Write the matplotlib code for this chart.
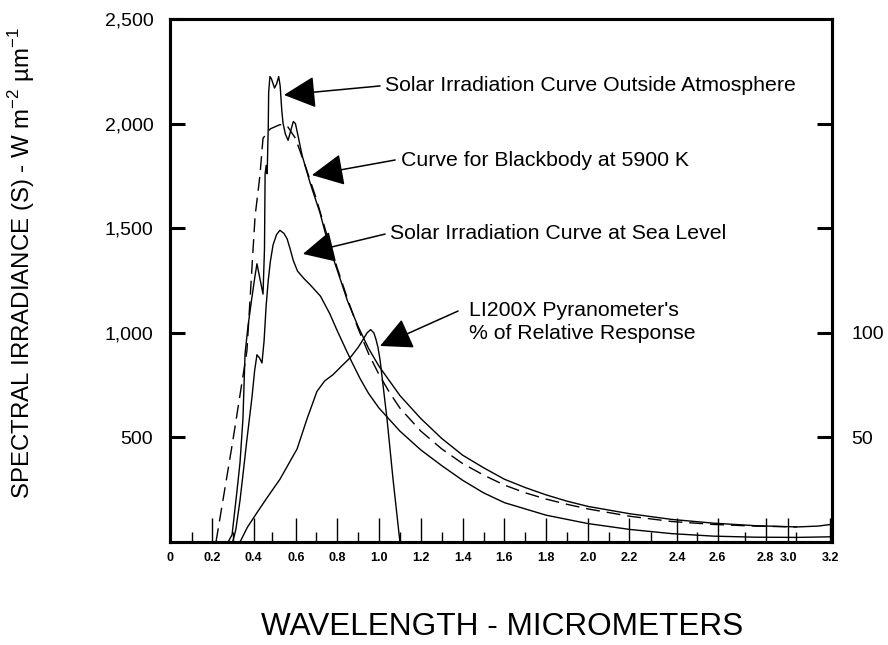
import matplotlib
matplotlib.use("Agg")
import matplotlib.pyplot as plt

plt.rcParams['font.family'] = ['Liberation Sans', 'DejaVu Sans']

# Solar irradiation outside atmosphere (wavelength um, W m-2 um-1)
wl_outside = [0.278, 0.297, 0.32, 0.335, 0.349, 0.359, 0.373, 0.392, 0.405, 0.416,
              0.43, 0.445, 0.452, 0.455, 0.46, 0.465, 0.468, 0.47, 0.472, 0.478,
              0.485, 0.50, 0.51, 0.52, 0.527, 0.535, 0.541, 0.552, 0.565, 0.58,
              0.59, 0.60, 0.615, 0.632, 0.67, 0.718, 0.756, 0.80, 0.85, 0.90,
              0.95, 1.0, 1.05, 1.1, 1.2, 1.3, 1.4, 1.5, 1.6, 1.7,
              1.8, 1.9, 2.0, 2.2, 2.4, 2.6, 2.8, 3.0, 3.1, 3.17]
irr_outside = [0, 35, 240, 380, 590, 900, 1030, 1170, 1260, 1330,
               1260, 1185, 1400, 1760, 1800, 1760, 1900, 1980, 2150, 2225,
               2215, 2170, 2190, 2225, 2180, 2060, 2000, 1950, 1920, 1975,
               2010, 2000, 1930, 1848, 1717, 1572, 1427, 1300, 1150, 1030,
               925, 840, 770, 700, 590, 495, 415, 355, 300, 260,
               225, 195, 170, 135, 108, 90, 78, 72, 76, 85]

# Blackbody at 5900 K
wl_blackbody = [0.22, 0.30, 0.368, 0.407, 0.43, 0.445, 0.48, 0.526, 0.56, 0.60,
                0.65, 0.70, 0.75, 0.80, 0.85, 0.90, 0.95, 1.0, 1.05, 1.1,
                1.2, 1.3, 1.4, 1.5, 1.6, 1.7, 1.8, 1.9, 2.0, 2.2,
                2.4, 2.6, 2.8, 3.0]
irr_blackbody = [0, 480, 914, 1557, 1750, 1930, 1975, 1995, 1990, 1930,
                 1790, 1640, 1470, 1310, 1160, 1020, 900, 800, 715, 640,
                 530, 445, 375, 320, 272, 235, 205, 180, 158, 123,
                 98, 84, 76, 72]

# Solar irradiation at sea level
wl_sea = [0.30, 0.315, 0.335, 0.35, 0.368, 0.392, 0.405, 0.416, 0.428, 0.44,
          0.45, 0.46, 0.47, 0.48, 0.493, 0.51, 0.526, 0.545, 0.56, 0.575,
          0.59, 0.61, 0.64, 0.67, 0.72, 0.765, 0.80, 0.837, 0.87, 0.91,
          0.95, 1.0, 1.1, 1.2, 1.3, 1.4, 1.5, 1.6, 1.8, 2.0,
          2.2, 2.4, 2.6, 2.8, 3.0, 3.17]
irr_sea = [0, 60, 200, 330, 490, 690, 820, 895, 880, 856,
           960, 1130, 1250, 1340, 1420, 1470, 1490, 1475, 1450, 1400,
           1345, 1295, 1260, 1230, 1175, 1090, 1010, 930, 860, 780,
           710, 640, 530, 440, 365, 295, 235, 188, 128, 88,
           60, 40, 28, 23, 22, 25]

# LI200X pyranometer relative response (%)
wl_pyr = [0.335, 0.37, 0.416, 0.47, 0.526, 0.608, 0.656, 0.703, 0.74, 0.78,
          0.82, 0.861, 0.90, 0.919, 0.943, 0.96, 0.975, 0.985, 0.995, 1.005,
          1.038, 1.067, 1.10]
resp_pyr = [0, 7, 14, 22, 30, 44.5, 59, 72, 77, 80,
            84, 88, 93, 96, 100, 101.5, 100, 97, 93, 87,
            59, 30, 0]

# tick positions as drawn on the original (labels are not evenly spaced)
xtick_pos = [0, 0.20, 0.40, 0.603, 0.80, 1.0, 1.20, 1.40, 1.60, 1.80,
             2.00, 2.196, 2.426, 2.62, 2.85, 2.957, 3.158]
xtick_labels = ['0', '0.2', '0.4', '0.6', '0.8', '1.0', '1.2', '1.4', '1.6', '1.8',
                '2.0', '2.2', '2.4', '2.6', '2.8', '3.0', '3.2']
xminor_pos = [0.105, 0.30, 0.49, 0.70, 0.90, 1.10, 1.30, 1.50, 1.70, 1.90,
              2.10, 2.30, 2.52, 2.75, 2.995]
ytick_pos = [500, 1000, 1500, 2000, 2500]
ytick_labels = ['500', '1,000', '1,500', '2,000', '2,500']

fig = plt.figure(figsize=(8.88, 6.45), dpi=100)
ax = fig.add_axes([170 / 888, 1 - 542 / 645, 662 / 888, 523 / 645])

ax.plot(wl_outside, irr_outside, color='black', lw=1.0)
ax.plot(wl_blackbody, irr_blackbody, color='black', lw=1.0, dashes=(10, 5))
ax.plot(wl_sea, irr_sea, color='black', lw=1.0)

ax.set_xlim(0, 3.167)
ax.set_ylim(0, 2500)
ax.set_xticks(xtick_pos, xtick_labels)
ax.set_xticks(xminor_pos, minor=True)
ax.set_yticks(ytick_pos, ytick_labels)
ax.tick_params(axis='x', which='major', direction='in', length=17, width=1,
               pad=7, labelsize=9)
ax.tick_params(axis='x', which='minor', direction='in', length=7, width=1)
ax.tick_params(axis='y', direction='in', length=11, width=2.2, pad=12,
               labelsize=14)
for lbl in ax.get_xticklabels():
    lbl.set_fontweight('bold')
for s in ax.spines.values():
    s.set_linewidth(2.2)

ax2 = ax.twinx()
ax2.plot(wl_pyr, resp_pyr, color='black', lw=1.0)
ax2.set_ylim(0, 250)
ax2.set_yticks([50, 100, 150, 200], ['50', '100', '', ''])
ax2.tick_params(axis='y', direction='in', length=11, width=2.2, pad=14,
                labelsize=14)
for s in ax2.spines.values():
    s.set_linewidth(2.2)

# annotations
fs = 15.3
arrow = dict(arrowstyle='-|>,head_length=1.0,head_width=0.5', color='black',
             lw=1.1, mutation_scale=20, shrinkA=0, shrinkB=0)
ax.text(1.029, 2184, 'Solar Irradiation Curve Outside Atmosphere',
        fontsize=fs, va='center', ha='left')
ax.annotate('', xy=(0.545, 2137), xytext=(1.005, 2180), arrowprops=arrow)
ax.text(1.105, 1826, 'Curve for Blackbody at 5900 K',
        fontsize=fs, va='center', ha='left')
ax.annotate('', xy=(0.679, 1754), xytext=(1.077, 1826), arrowprops=arrow)
ax.text(1.053, 1477, 'Solar Irradiation Curve at Sea Level',
        fontsize=fs, va='center', ha='left')
ax.annotate('', xy=(0.636, 1377), xytext=(1.029, 1472), arrowprops=arrow)
ax.text(1.43, 1050, "LI200X Pyranometer's\n% of Relative Response",
        fontsize=fs, va='center', ha='left', linespacing=1.25)
ax.annotate('', xy=(1.005, 937), xytext=(1.378, 1104), arrowprops=arrow)

ax.set_xlabel('WAVELENGTH - MICROMETERS', fontsize=22.7, va='center')
ax.xaxis.set_label_coords(0.5015, -0.1625)
ax.set_ylabel('SPECTRAL IRRADIANCE (S) - W m$^{\\mathregular{-2}}$ '
              '\u00b5m$^{\\mathregular{-1}}$',
              fontsize=17.3, va='center')
ax.yaxis.set_label_coords(-0.2236, 0.533)

fig.savefig('out.png', dpi=100)
